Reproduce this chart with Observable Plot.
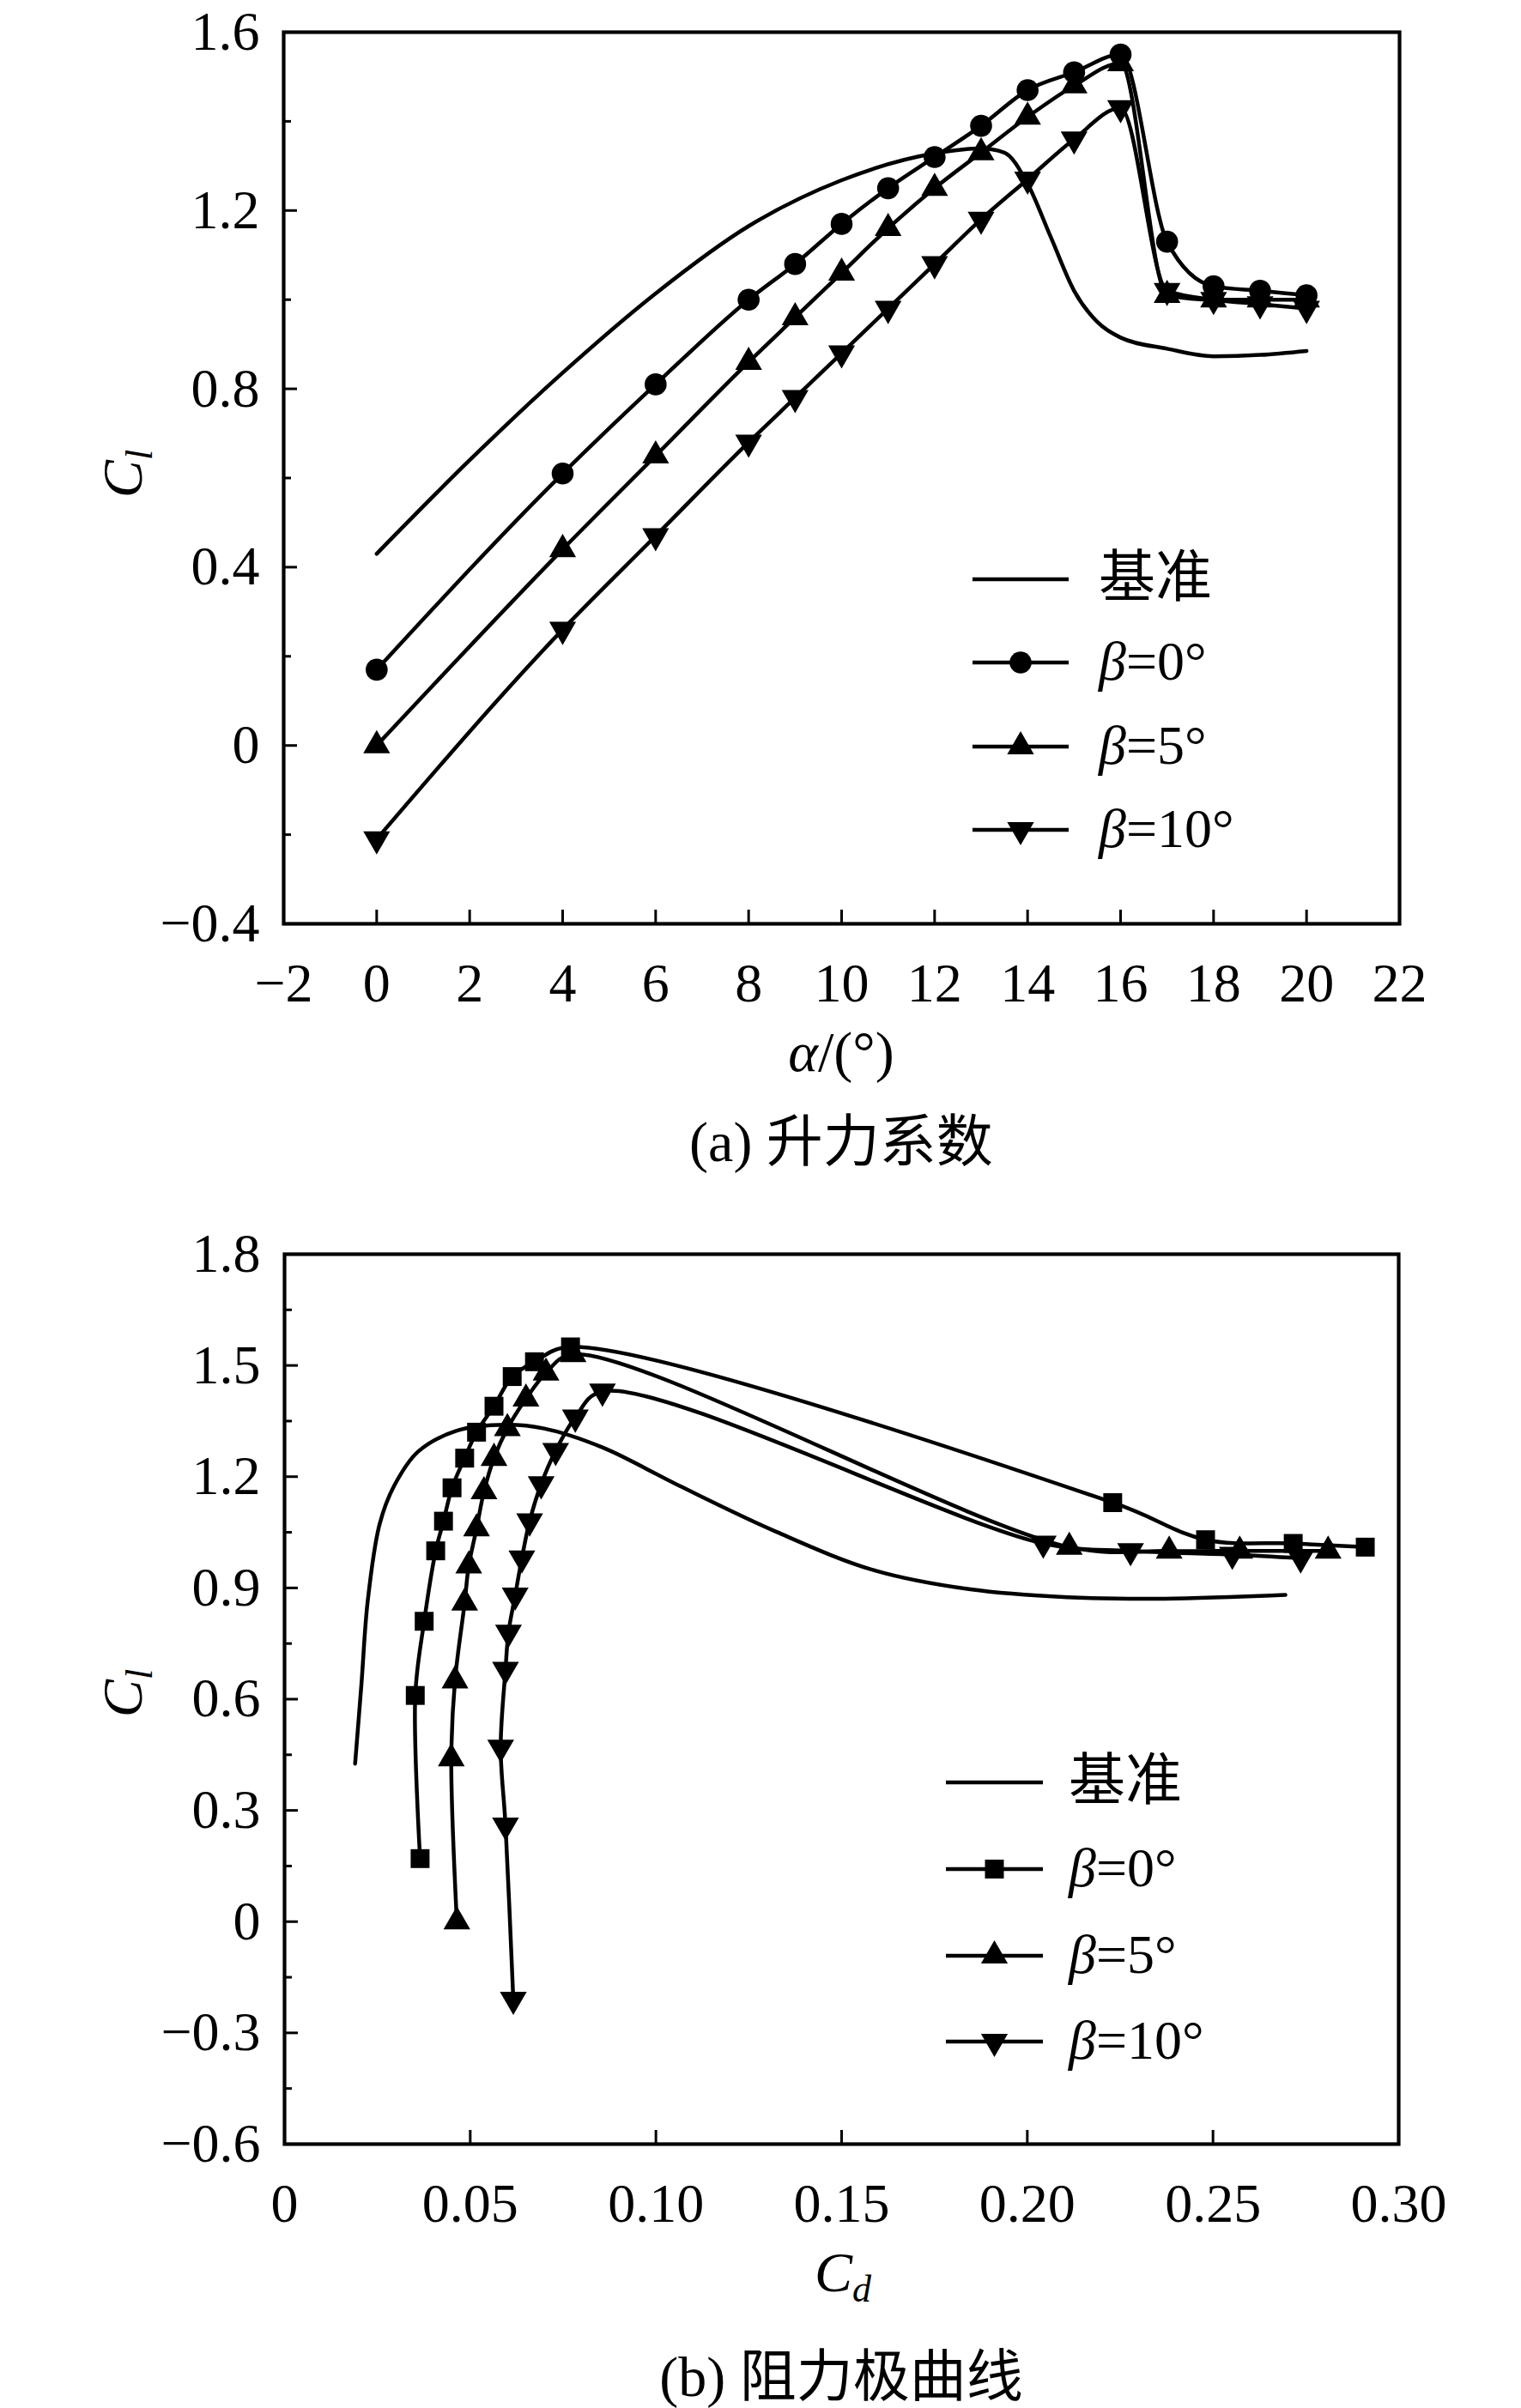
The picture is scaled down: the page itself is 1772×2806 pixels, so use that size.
<!DOCTYPE html>
<html>
<head>
<meta charset="utf-8">
<script src="https://cdn.jsdelivr.net/npm/d3@7"></script>
<script src="https://cdn.jsdelivr.net/npm/@observablehq/plot@0.6"></script>
<style>
html, body { margin: 0; padding: 0; background: #fff; }
#wrap { position: relative; width: 1772px; height: 2806px; background: #fff; overflow: hidden; }
.panel { position: absolute; left: 0; }
.cap { position: absolute; left: 188px; width: 1584px; text-align: center;
  font-family: "Liberation Serif", "Noto Sans CJK SC", serif; font-size: 66px; line-height: 66px;
  color: #000; white-space: nowrap; }
</style>
</head>
<body>
<div id="wrap"></div>
<script>
// ---------------- data ----------------
const alpha = [0, 4, 6, 8, 9, 10, 11, 12, 13, 14, 15, 16, 17, 18, 19, 20];
const clB0  = [0.17, 0.61, 0.81, 1.00, 1.08, 1.17, 1.25, 1.32, 1.39, 1.47, 1.51, 1.55, 1.13, 1.03, 1.02, 1.01];
const cdB0  = [0.0365, 0.0352, 0.0376, 0.0407, 0.0428, 0.0451, 0.0485, 0.0517, 0.0564, 0.0613, 0.0673, 0.0770, 0.2230, 0.2480, 0.2716, 0.2910];
const clB5  = [0.00, 0.44, 0.65, 0.86, 0.96, 1.06, 1.16, 1.25, 1.33, 1.41, 1.48, 1.53, 1.01, 1.00, 1.00, 1.00];
const cdB5  = [0.0464, 0.0449, 0.0459, 0.0485, 0.0496, 0.0517, 0.0537, 0.0564, 0.0600, 0.0650, 0.0704, 0.0777, 0.2113, 0.2382, 0.2572, 0.2810];
const clB10 = [-0.21, 0.26, 0.47, 0.68, 0.78, 0.88, 0.98, 1.08, 1.18, 1.27, 1.36, 1.43, 1.02, 1.00, 0.99, 0.98];
const cdB10 = [0.0616, 0.0595, 0.0582, 0.0595, 0.0603, 0.0621, 0.0639, 0.0660, 0.0691, 0.0730, 0.0783, 0.0856, 0.2043, 0.2278, 0.2552, 0.2736];

// baseline (基准) lift curve
const baseAlpha = [0, 2, 4, 6, 8, 10, 12, 13, 13.5, 14, 14.5, 15, 15.5, 16, 17, 18, 19, 20];
const baseCl    = [0.43, 0.64, 0.836, 1.014, 1.165, 1.268, 1.328, 1.339, 1.33, 1.26, 1.14, 1.02, 0.95, 0.915, 0.89, 0.873, 0.876, 0.885];
// baseline drag polar
const basePolarCd = [0.019, 0.0207, 0.0224, 0.0256, 0.0295, 0.036, 0.0464, 0.0595, 0.0699, 0.0856, 0.1064, 0.1325, 0.1586, 0.1847, 0.2108, 0.2369, 0.2695];
const basePolarCl = [0.426, 0.64, 0.865, 1.072, 1.175, 1.268, 1.324, 1.34, 1.33, 1.279, 1.175, 1.051, 0.948, 0.896, 0.875, 0.871, 0.881];

// ticks and labels
const xTicksA = [-2, 0, 2, 4, 6, 8, 10, 12, 14, 16, 18, 20, 22];
const xLabelsA = ["−2", "0", "2", "4", "6", "8", "10", "12", "14", "16", "18", "20", "22"];
const yTicksA = [-0.4, 0, 0.4, 0.8, 1.2, 1.6];
const yLabelsA = ["−0.4", "0", "0.4", "0.8", "1.2", "1.6"];
const yMinorA = [-0.2, 0.2, 0.6, 1.0, 1.4];

const xTicksB = [0, 0.05, 0.1, 0.15, 0.2, 0.25, 0.3];
const xLabelsB = ["0", "0.05", "0.10", "0.15", "0.20", "0.25", "0.30"];
const yTicksB = [-0.6, -0.3, 0, 0.3, 0.6, 0.9, 1.2, 1.5, 1.8];
const yLabelsB = ["−0.6", "−0.3", "0", "0.3", "0.6", "0.9", "1.2", "1.5", "1.8"];
const yMinorB = [-0.45, -0.15, 0.15, 0.45, 0.75, 1.05, 1.35, 1.65];

const legendLabels = ["基准", "=0°", "=5°", "=10°"];
const captionA = "(a) 升力系数";
const captionB = "(b) 阻力极曲线";

// ---------------- helpers ----------------
const SERIF = '"Liberation Serif", "Times New Roman", serif';
const CJK = '"Noto Sans CJK SC", sans-serif';
const lookup = (ticks, labels) => d => labels[ticks.findIndex(t => Math.abs(t - d) < 1e-9)];

const triangleDown = {
  draw(context, size) {
    const s3 = Math.sqrt(3);
    const y = -Math.sqrt(size / (s3 * 3));
    context.moveTo(0, -y * 2);
    context.lineTo(-s3 * y, y);
    context.lineTo(s3 * y, y);
    context.closePath();
  }
};

const rows = (xs, ys, kx, ky) => xs.map((v, i) => ({[kx]: v, [ky]: ys[i]}));

const series = [
  {label: "=0°", cl: clB0, cd: cdB0, symA: "circle", symB: "square", rA: 12.8, rB: 12.4},
  {label: "=5°", cl: clB5, cd: cdB5, symA: "triangle", symB: "triangle", rA: 11.6, rB: 11.6},
  {label: "=10°", cl: clB10, cd: cdB10, symA: triangleDown, symB: triangleDown, rA: 11.6, rB: 11.6}
];

const LW = 4.5;

function frameMarks(PW, PH, xTicks, xLabels, yTicks, yLabels, yMinor) {
  return [
    Plot.axisX({ticks: xTicks, tickSize: 0, tickPadding: 45, tickFormat: lookup(xTicks, xLabels), fontSize: 64, label: null}),
    Plot.axisY({ticks: yTicks, tickSize: 0, tickPadding: 28, tickFormat: lookup(yTicks, yLabels), fontSize: 64, label: null}),
    Plot.tickX(xTicks, {x: d => d, insetTop: PH - 16, stroke: "#000", strokeWidth: 3}),
    Plot.tickY(yTicks, {y: d => d, insetRight: PW - 16, stroke: "#000", strokeWidth: 3}),
    Plot.tickY(yMinor, {y: d => d, insetRight: PW - 9, stroke: "#000", strokeWidth: 3}),
    Plot.frame({stroke: "#000", strokeWidth: 4.2})
  ];
}

function addLegend(svg, {x0, x1, xt, ys, syms}) {
  const g = svg.append("g").attr("text-anchor", "start");
  const xm = (x0 + x1) / 2;
  ys.forEach((y, i) => {
    g.append("line").attr("x1", x0).attr("x2", x1).attr("y1", y).attr("y2", y)
      .attr("stroke", "#000").attr("stroke-width", 4.5);
    const t = g.append("text").attr("x", xt).attr("y", y + 20).attr("fill", "#000")
      .attr("text-anchor", "start").style("font-size", "64px");
    if (i === 0) {
      t.style("font-family", CJK).style("font-size", "66px").text(legendLabels[0]);
    } else {
      const s = syms[i - 1];
      g.append("path").attr("transform", `translate(${xm},${y})`)
        .attr("d", d3.symbol(s.type, Math.PI * s.r * s.r)()).attr("fill", "#000");
      t.style("font-family", SERIF);
      t.append("tspan").attr("font-style", "italic").text("β");
      t.append("tspan").text(legendLabels[i]);
    }
  });
}

const symType = s => s === "circle" ? d3.symbolCircle : s === "square" ? d3.symbolSquare : s === "triangle" ? d3.symbolTriangle : s;

// ---------------- panel (a) ----------------
const HA = 1280, MTA = 37, MBA = 204, MLA = 330, MRA = 142;
const PWA = 1772 - MLA - MRA, PHA = HA - MTA - MBA;
const marksA = [
  Plot.line(rows(baseAlpha, baseCl, "alpha", "cl"), {x: "alpha", y: "cl", curve: "monotone-x", stroke: "#000", strokeWidth: LW})
];
series.forEach(s => {
  const data = rows(alpha, s.cl, "alpha", "cl");
  marksA.push(Plot.line(data, {x: "alpha", y: "cl", curve: "monotone-x", stroke: "#000", strokeWidth: LW}));
  marksA.push(Plot.dot(data, {x: "alpha", y: "cl", symbol: s.symA, r: s.rA, fill: "#000", stroke: "none"}));
});
const plotA = Plot.plot({
  width: 1772, height: HA,
  marginTop: MTA, marginBottom: MBA, marginLeft: MLA, marginRight: MRA,
  x: {domain: [-2, 22]},
  y: {domain: [-0.4, 1.6]},
  style: {fontFamily: SERIF, fontSize: "64px", color: "#000", background: "#fff", overflow: "visible"},
  marks: [...marksA, ...frameMarks(PWA, PHA, xTicksA, xLabelsA, yTicksA, yLabelsA, yMinorA)]
});
plotA.classList.add("panel");
plotA.style.top = "0px";

{
  const svg = d3.select(plotA);
  const yl = svg.append("text").attr("transform", "translate(165,552) rotate(-90)")
    .attr("text-anchor", "middle").attr("fill", "#000")
    .style("font-family", SERIF).style("font-size", "66px");
  yl.append("tspan").attr("font-style", "italic").text("C");
  yl.append("tspan").attr("font-style", "italic").attr("font-size", "44px").attr("dy", 12).text("l");
  const xl = svg.append("text").attr("x", 980).attr("y", 1248).attr("text-anchor", "middle")
    .attr("fill", "#000").style("font-family", SERIF).style("font-size", "66px");
  xl.append("tspan").attr("font-style", "italic").text("α");
  xl.append("tspan").text("/(°)");
  addLegend(svg, {x0: 1133, x1: 1245, xt: 1280, ys: [675, 772, 870, 967],
    syms: series.map(s => ({type: symType(s.symA), r: s.rA}))});
}

// ---------------- panel (b) ----------------
const HB = 1300, MTB = 61, MBB = 202, MLB = 331, MRB = 143;
const PWB = 1772 - MLB - MRB, PHB = HB - MTB - MBB;
const marksB = [
  Plot.line(rows(basePolarCd, basePolarCl, "cd", "cl"), {x: "cd", y: "cl", curve: "catmull-rom", stroke: "#000", strokeWidth: LW})
];
series.forEach(s => {
  const data = s.cd.map((v, i) => ({cd: v, cl: s.cl[i]}));
  marksB.push(Plot.line(data, {x: "cd", y: "cl", curve: "catmull-rom", stroke: "#000", strokeWidth: LW}));
  marksB.push(Plot.dot(data, {x: "cd", y: "cl", symbol: s.symB, r: s.rB, fill: "#000", stroke: "none"}));
});
const plotB = Plot.plot({
  width: 1772, height: HB,
  marginTop: MTB, marginBottom: MBB, marginLeft: MLB, marginRight: MRB,
  x: {domain: [0, 0.3]},
  y: {domain: [-0.6, 1.8]},
  style: {fontFamily: SERIF, fontSize: "64px", color: "#000", background: "#fff", overflow: "visible"},
  marks: [...marksB, ...frameMarks(PWB, PHB, xTicksB, xLabelsB, yTicksB, yLabelsB, yMinorB)]
});
plotB.classList.add("panel");
plotB.style.top = "1400px";

{
  const svg = d3.select(plotB);
  const yl = svg.append("text").attr("transform", "translate(165,573) rotate(-90)")
    .attr("text-anchor", "middle").attr("fill", "#000")
    .style("font-family", SERIF).style("font-size", "66px");
  yl.append("tspan").attr("font-style", "italic").text("C");
  yl.append("tspan").attr("font-style", "italic").attr("font-size", "44px").attr("dy", 12).text("l");
  const xl = svg.append("text").attr("x", 982).attr("y", 1270).attr("text-anchor", "middle")
    .attr("fill", "#000").style("font-family", SERIF).style("font-size", "66px");
  xl.append("tspan").attr("font-style", "italic").text("C");
  xl.append("tspan").attr("font-style", "italic").attr("font-size", "44px").attr("dy", 12).text("d");
  addLegend(svg, {x0: 1102, x1: 1215, xt: 1245, ys: [677, 778, 879, 979],
    syms: series.map(s => ({type: symType(s.symB), r: s.rB}))});
}

const wrap = document.getElementById("wrap");
wrap.appendChild(plotA);
wrap.appendChild(plotB);

const capA = document.createElement("div");
capA.className = "cap"; capA.style.top = "1298px"; capA.textContent = captionA;
const capB = document.createElement("div");
capB.className = "cap"; capB.style.top = "2737px"; capB.textContent = captionB;
wrap.appendChild(capA);
wrap.appendChild(capB);
</script>
</body>
</html>
